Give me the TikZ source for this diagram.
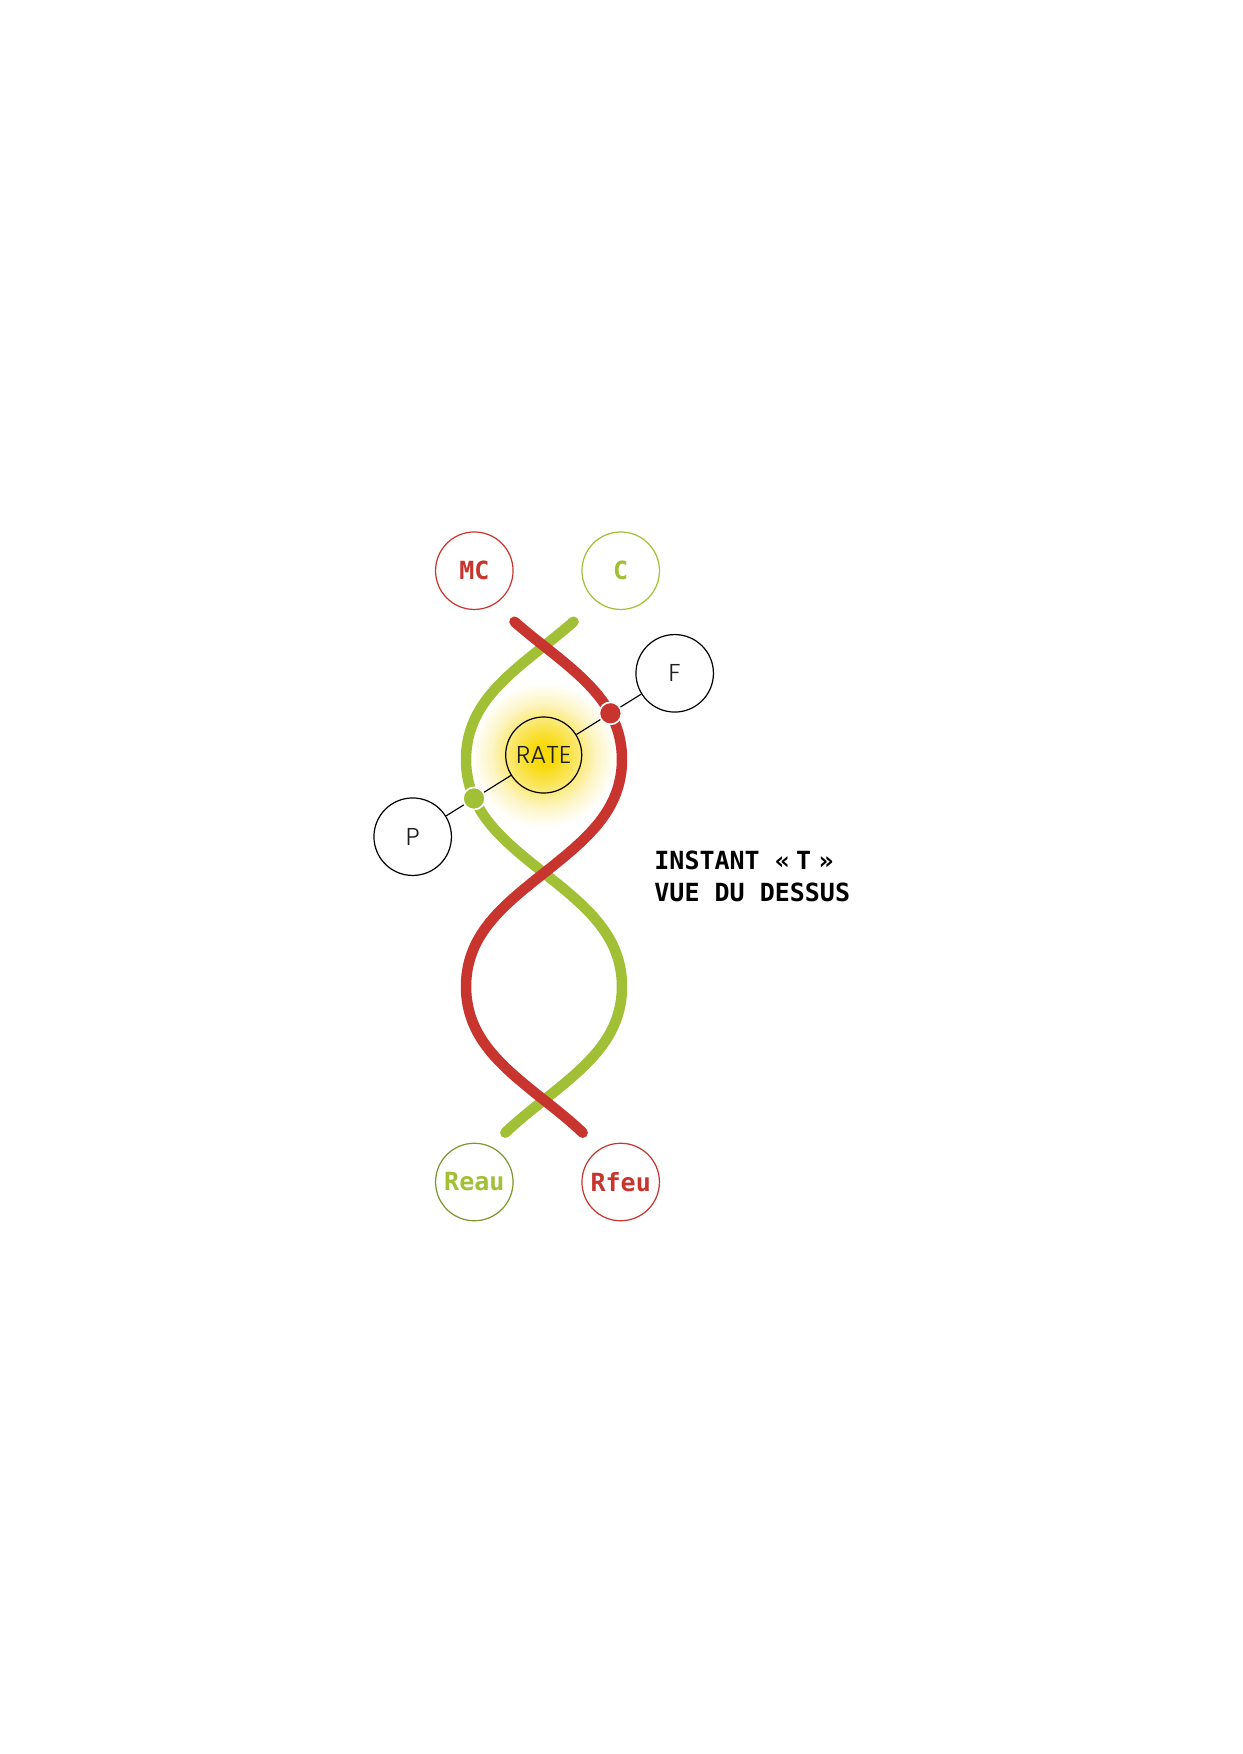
\documentclass[tikz,border=0pt]{standalone}
\usepackage{fontspec}
\newfontfamily\monofam{DejaVu Sans Mono}
\IfFontExistsTF{Poppins Light}{\newfontfamily\thinfam{Poppins Light}}{%
 \IfFontExistsTF{Poppins-Light}{\newfontfamily\thinfam{Poppins-Light}}{%
  \IfFontExistsTF{DejaVu Sans ExtraLight}{\newfontfamily\thinfam{DejaVu Sans ExtraLight}}{%
   \IfFontExistsTF{Lato Light}{\newfontfamily\thinfam{Lato Light}}{\newfontfamily\thinfam{DejaVu Sans}}}}}
\definecolor{sgreen}{RGB}{161,192,54}
\definecolor{sred}{RGB}{200,52,46}
\definecolor{solive}{RGB}{125,150,45}
\definecolor{txtgray}{RGB}{30,30,30}
\definecolor{glowA}{RGB}{248,218,12}
\definecolor{glowB}{RGB}{251,233,118}
\definecolor{glowC}{RGB}{253,245,196}
\pgfdeclareradialshading{glowshade}{\pgfpointorigin}{color(0bp)=(glowA); color(4bp)=(glowA); color(12.5bp)=(glowB); color(18bp)=(glowC); color(25bp)=(white); color(50bp)=(white)}
\tikzset{
  strand/.style={line width=5.04pt, line cap=round, line join=round},
  lbl/.style={circle, draw, line width=0.58pt, minimum size=37.2pt, inner sep=0pt},
  monolbl/.style={lbl, font={\monofam\bfseries\fontsize{12pt}{14pt}\selectfont}},
  thinlbl/.style={lbl, draw=black, text=txtgray, font={\thinfam\fontsize{11.7pt}{14pt}\selectfont}},
  joint/.style={circle, draw=white, line width=0.8pt, minimum size=10.6pt, inner sep=0pt},
  link/.style={line width=0.55pt, draw=black},
  caption/.style={anchor=base west, inner sep=0pt, font={\monofam\bfseries\fontsize{12pt}{14pt}\selectfont}}
}
\begin{document}
\begin{tikzpicture}[x=0.48pt,y=-0.48pt]
\fill[white] (0,0) rectangle (1242,1754);
\useasboundingbox (0,0) rectangle (1242,1754);
\coordinate (ratec) at (543.7,755);
\shade[shading=glowshade] (ratec) circle (35pt);
% strands
\draw[strand, sgreen] plot[domain=621.7:1132.7, samples=180] ({544-78*(sin((\x-646)*0.79295)+0.04*sin(3*(\x-646)*0.79295))/0.96}, \x);
\draw[strand, sred] plot[domain=621.7:1132.7, samples=180] ({544+78*(sin((\x-646)*0.79295)+0.04*sin(3*(\x-646)*0.79295))/0.96}, \x);
% nodes
\node[thinlbl, fill=white] (P) at (412.7,836.7) {P};
\node[thinlbl, fill=white] (F) at (674.7,673.3) {F};
\node[thinlbl, minimum size=36.5pt] (RATE) at (ratec) {RATE};
\node[joint, fill=sgreen] (gdot) at (474,798.5) {};
\node[joint, fill=sred] (rdot) at (610.4,713.3) {};
\draw[link] (P) -- (gdot);
\draw[link] (gdot) -- (RATE);
\draw[link] (RATE) -- (rdot);
\draw[link] (rdot) -- (F);
\node[monolbl, draw=sred, text=sred] (MC) at (474.3,570.7) {MC};
\node[monolbl, draw=sgreen, text=sgreen] (C) at (620.7,570.7) {C};
\node[monolbl, draw=solive, text=sgreen] (Reau) at (474.3,1182) {Reau};
\node[monolbl, draw=sred, text=sred] (Rfeu) at (620.7,1182) {Rfeu};
\node[caption] (t1) at (654,869.3) {INSTANT «\kern3pt T\kern3.6pt »};
\node[caption] (t2) at (654,901.7) {VUE DU DESSUS};
\end{tikzpicture}
\end{document}
